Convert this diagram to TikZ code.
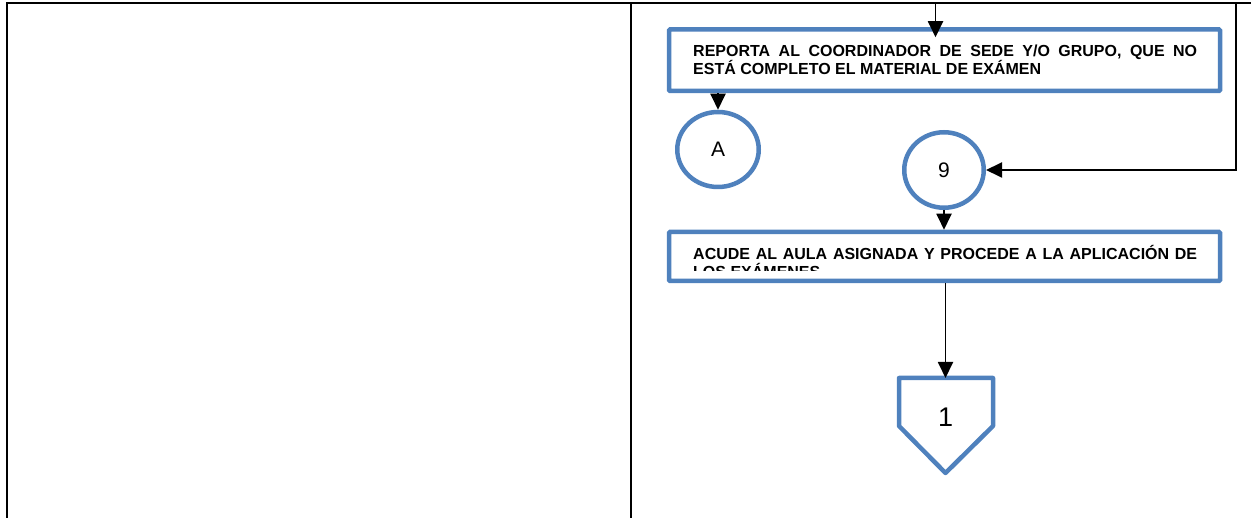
\documentclass[tikz,border=0pt]{standalone}
\usepackage{fontspec}
\setmainfont{Liberation Sans}
\usetikzlibrary{arrows.meta,shapes.geometric,calc}
\definecolor{boxblue}{HTML}{4F81BD}
\begin{document}
\begin{tikzpicture}[x=1pt,y=-1pt,
  tableline/.style={line width=2.6pt, black},
  flowbox/.style={rectangle, draw=boxblue, line width=4.5pt, fill=white, inner sep=0pt, rounded corners=1pt},
  connector/.style={ellipse, draw=boxblue, line width=4.5pt, fill=white, inner sep=0pt, font=\fontsize{21}{21}\selectfont},
  offpage/.style={draw=boxblue, line width=4.5pt, line join=round},
  conn/.style={line width=1.9pt, -{Triangle[length=16pt,width=15pt]}},
  boxtext/.style={inner sep=0pt, anchor=base west, font=\fontsize{16}{17.5}\selectfont\bfseries},
]
\useasboundingbox (0,0) rectangle (1251,518);

% table frame
\coordinate (tl) at (7,3);
\coordinate (tr) at (1251,3);
\coordinate (bl) at (7,518);
\coordinate (mt) at (631,3);
\coordinate (mb) at (631,518);
\draw[tableline] (bl) -- (tl) -- (tr);
\draw[tableline] (mt) -- (mb);

% box 1
\node[flowbox, minimum width=551pt, minimum height=61.5pt] (box1) at (944.5,60.25) {};
\node[boxtext] (t1a) at (693,57) {\makebox[504pt][s]{REPORTA AL COORDINADOR DE SEDE Y/O GRUPO, QUE NO}};
\node[boxtext] (t1b) at (693,74.5) {ESTÁ COMPLETO EL MATERIAL DE EXÁMEN};

% connectors
\node[connector, minimum width=81.5pt, minimum height=75pt] (A) at (718,149.5) {A};
\node[connector, minimum width=79.5pt, minimum height=75.5pt] (n9) at (944,170) {9};

% box 2
\node[flowbox, minimum width=551pt, minimum height=49pt] (box2) at (944.5,256.5) {};
\begin{scope}
  \clip (671,234) rectangle (1218,271);
  \node[boxtext] (t2a) at (693,260) {\makebox[504pt][s]{ACUDE AL AULA ASIGNADA Y PROCEDE A LA APLICACIÓN DE}};
  \node[boxtext] (t2b) at (693,277.5) {LOS EXÁMENES};
\end{scope}

% off-page connector
\coordinate (pTop) at (945.5,378);
\draw[offpage] (899,378) -- (993,378) -- (993,426) -- (945.5,473) -- (899,426) -- cycle;
\node[font=\fontsize{27}{27}\selectfont, inner sep=0pt] (one) at (945.5,417) {1};

% arrows
\coordinate (in1) at (935.5,3);
\draw[conn] (in1) -- ($(box1.north -| in1)+(0,10)$);
\draw[conn] (box1.south -| A) -- (A.north);
\coordinate (rtop) at (1236,3);
\draw[conn] (rtop) |- (n9.east);
\draw[conn] (n9.south) -- (box2.north -| n9);
\draw[conn] (box2.south -| pTop) -- (pTop);
\end{tikzpicture}
\end{document}
